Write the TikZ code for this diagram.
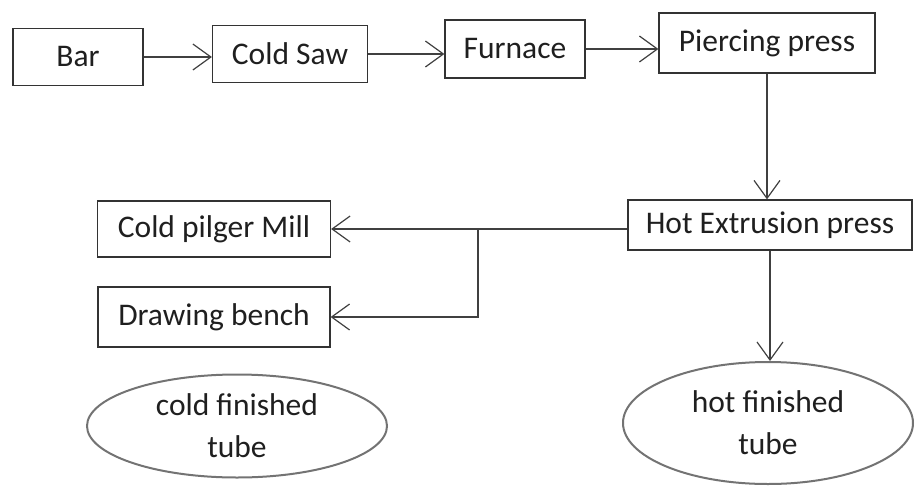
\documentclass[tikz,border=0pt]{standalone}
\usepackage{fontspec}
\setmainfont{Carlito}
\usetikzlibrary{arrows.meta,shapes.geometric}
\begin{document}
\begin{tikzpicture}[x=1pt,y=-1pt,
  box/.style={draw=black!80, line width=1.2pt, inner sep=0pt, font=\fontsize{31.5}{36}\selectfont, text=black!88},
  oval/.style={ellipse, draw=black!55, line width=2pt, inner sep=0pt, align=center, font=\fontsize{31.5}{42}\selectfont, text=black!88},
  arr/.style={draw=black!75, line width=1.2pt, -{Straight Barb[length=18pt,width=26pt]}},
  plain/.style={draw=black!75, line width=1.2pt}]
\useasboundingbox (0,0) rectangle (916,490);
\node[box, minimum width=130pt, minimum height=57pt] (bar) at (78,57) {Bar};
\node[box, minimum width=155pt, minimum height=57pt] (saw) at (290,54) {Cold Saw};
\node[box, minimum width=140pt, minimum height=58pt] (furnace) at (515,49) {Furnace};
\node[box, minimum width=216pt, minimum height=60pt] (pierce) at (767,43) {Piercing press};
\node[box, minimum width=284pt, minimum height=50pt] (hot) at (770,225) {Hot Extrusion press};
\node[box, minimum width=233pt, minimum height=56pt] (pilger) at (214,229) {Cold pilger Mill};
\node[box, minimum width=232pt, minimum height=60pt] (drawing) at (214,317) {Drawing bench};
\node[oval, minimum width=300pt, minimum height=103pt] (coldtube) at (237,426) {cold finished\\tube};
\node[oval, minimum width=290pt, minimum height=122pt] (hottube) at (768,423) {hot finished\\tube};
\coordinate (br) at (478,0);
\draw[arr] (bar.east) -- (saw.west |- bar.east);
\draw[arr] (saw.east) -- (furnace.west |- saw.east);
\draw[arr] (furnace.east) -- (pierce.west |- furnace.east);
\draw[arr] (pierce.south) -- (pierce.south |- hot.north);
\draw[arr] (hot.west |- pilger.east) -- (pilger.east);
\draw[arr] (br |- pilger.east) -- (br |- drawing.east) -- (drawing.east);
\draw[arr] (hot.south) -- (hot.south |- hottube.north);
\end{tikzpicture}
\end{document}
